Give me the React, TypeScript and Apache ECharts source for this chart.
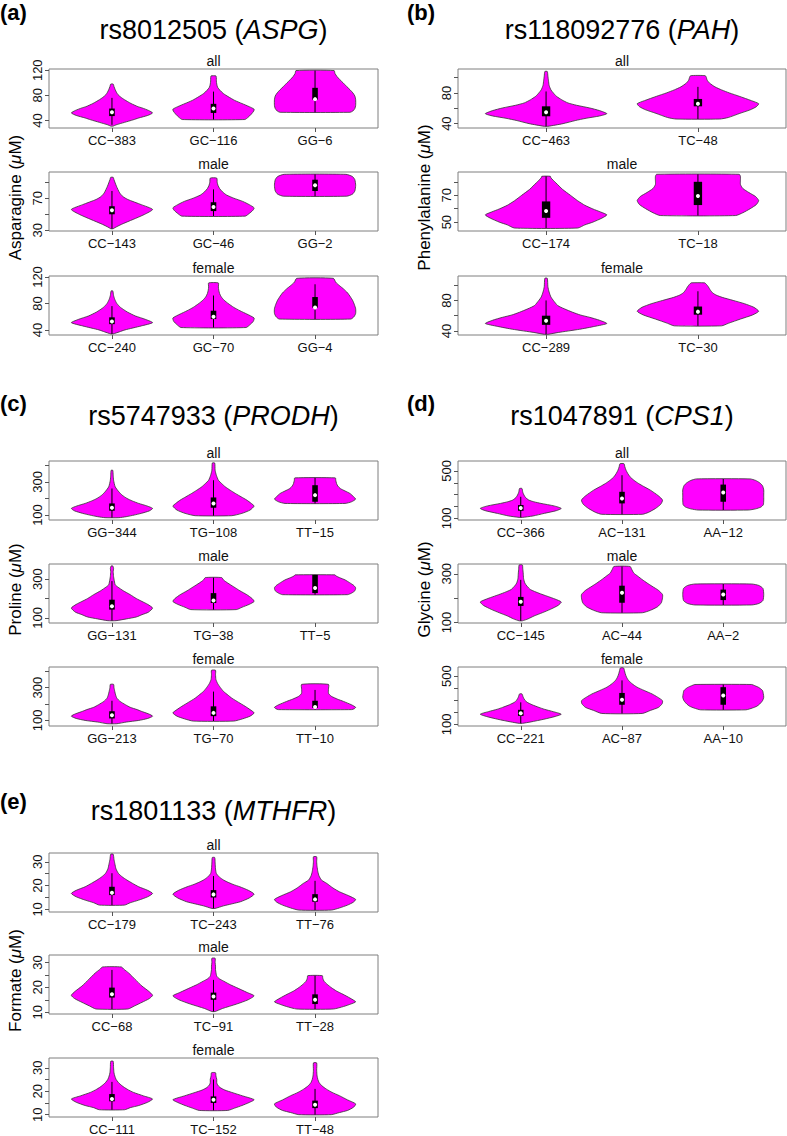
import React, { useEffect, useRef } from "react";
import * as echarts from "echarts";

const FONT = "'Liberation Sans', Arial, Helvetica, sans-serif";

// ---------- (a) rs8012505 (ASPG) ----------
const aAllCats = ["CC−383", "GC−116", "GG−6"];
const aAllProfiles = [
  [[31,0.03],[33,0.1],[37,0.31],[41,0.52],[44,0.66],[48,0.88],[52,1],[56,0.9],[60,0.74],[62,0.64],[67,0.47],[73,0.31],[77,0.22],[81,0.15],[85,0.11],[89,0.08],[94,0.05],[98,0.03]],
  [[41.5,0.77],[45,0.85],[50,0.93],[55,0.99],[58,1],[62,0.88],[67,0.7],[72,0.52],[78,0.36],[83,0.24],[88,0.16],[93,0.1],[98,0.08],[103,0.07],[108,0.07],[111,0.06]],
  [[53,0.86],[55,0.93],[59,0.98],[64,1],[73,1],[79,0.98],[84,0.93],[89,0.86],[94,0.78],[100,0.69],[105,0.61],[110,0.54],[115,0.49],[119.5,0.47]],
];
const aAllBoxes = [[33,47,53,59,76],[41.5,52,59,66.5,86],[53,73,74,92,119.5]];

const aMaleCats = ["CC−143", "GC−46", "GG−2"];
const aMaleProfiles = [
  [[32,0.03],[33.3,0.07],[37.4,0.23],[43.6,0.52],[49.8,0.8],[56,1],[62,0.72],[68.4,0.39],[72,0.27],[76.6,0.19],[85,0.11],[93,0.05],[96,0.03]],
  [[47.7,0.78],[51,0.88],[55,0.97],[58,1],[62,0.88],[66,0.72],[70,0.5],[74,0.32],[78,0.22],[82,0.15],[86,0.11],[90,0.09],[95,0.08]],
  [[72.5,0.78],[75,0.92],[79,0.98],[86,1],[93,0.98],[97,0.92],[99.7,0.76]],
];
const aMaleBoxes = [[32,50,55,60,79],[47.7,54,59,65,81],[72.5,79,86,93,99.7]];

const aFemaleCats = ["CC−240", "GC−70", "GG−4"];
const aFemaleProfiles = [
  [[34,0.03],[37,0.18],[40,0.32],[46,0.72],[51,1],[56,0.82],[61,0.58],[67,0.38],[74,0.21],[80,0.12],[86,0.07],[92,0.04],[99,0.02]],
  [[43.6,0.8],[48,0.9],[53,0.98],[58,1],[64,0.82],[69,0.65],[74,0.5],[80,0.36],[85,0.26],[90,0.19],[95,0.15],[100,0.13],[105,0.12],[111,0.12]],
  [[56.4,0.88],[60,0.96],[65,1],[72,1],[78,0.97],[84,0.93],[90,0.87],[96,0.8],[102,0.7],[107,0.6],[112,0.51],[118,0.45]],
];
const aFemaleBoxes = [[34,48.7,52.6,59,76],[43.6,56.4,60,69,92],[56.4,73.5,74,89.7,109]];

// ---------- (b) rs118092776 (PAH) ----------
const bAllCats = ["CC−463", "TC−48"];
const bAllProfiles = [
  [[36.5,0.03],[40,0.28],[44,0.48],[47,0.66],[50,0.88],[53,1],[57,0.88],[60.4,0.72],[64,0.5],[67,0.36],[71,0.26],[75.7,0.17],[80,0.12],[84,0.08],[90,0.05],[96,0.04],[102,0.03],[108,0.02]],
  [[46,0.36],[48,0.5],[53.4,0.69],[58,0.86],[62,0.96],[66,1],[70,0.88],[75.7,0.68],[80,0.52],[84,0.39],[88,0.28],[93,0.19],[97,0.15],[100,0.14],[102.6,0.12]],
];
const bAllBoxes = [[36.5,49.6,54.8,62.6,82],[46,62.6,66,72.2,88]];

const bMaleCats = ["CC−174", "TC−18"];
const bMaleProfiles = [
  [[45.6,0.52],[48,0.64],[50,0.77],[53,0.92],[55.4,1],[57.5,0.9],[59.8,0.77],[62.5,0.64],[65.9,0.52],[70,0.4],[74.4,0.27],[79.3,0.16],[82.9,0.08],[84.1,0.07]],
  [[54.9,0.62],[57,0.74],[60,0.86],[63,0.96],[66,1],[69,0.95],[72,0.84],[75,0.74],[78,0.7],[81,0.7],[84,0.7],[85.6,0.68]],
];
const bMaleBoxes = [[45.6,53.2,58.3,65.4,84.1],[54.9,62.7,69.5,80,85.6]];

const bFemaleCats = ["CC−289", "TC−30"];
const bFemaleProfiles = [
  [[35.6,0.03],[38,0.2],[42.2,0.55],[46,0.8],[49.8,1],[54,0.88],[57.8,0.72],[61,0.56],[64.4,0.44],[69,0.3],[73.3,0.19],[80,0.12],[84.4,0.08],[91,0.05],[98,0.03],[109,0.02]],
  [[46.7,0.39],[50,0.5],[55.6,0.7],[61,0.9],[65.8,1],[71,0.92],[75.6,0.77],[80,0.58],[84,0.4],[87,0.3],[90,0.24],[94,0.2],[98,0.17],[101,0.14],[103,0.11]],
];
const bFemaleBoxes = [[35.6,48,53.3,60,80],[46.7,61.3,65.3,72,92]];

// ---------- (c) rs5747933 (PRODH) ----------
const cAllCats = ["GG−344", "TG−108", "TT−15"];
const cAllProfiles = [
  [[84,0.17],[90,0.35],[100,0.55],[110,0.72],[125,0.92],[140,1],[155,0.86],[170,0.66],[185,0.5],[200,0.37],[220,0.25],[240,0.17],[270,0.08],[310,0.04],[340,0.03],[370,0.02]],
  [[96,0.45],[110,0.7],[130,0.9],[154,1],[170,0.93],[190,0.82],[210,0.68],[230,0.54],[250,0.41],[270,0.29],[290,0.2],[310,0.12],[340,0.07],[370,0.04],[414,0.03]],
  [[170,0.74],[180,0.9],[196,1],[210,0.95],[230,0.86],[245,0.74],[260,0.62],[275,0.56],[290,0.53],[310,0.51],[324,0.5]],
];
const cAllBoxes = [[84,126,144,170,260],[96,144,170,206,310],[170,180,220,280,324]];

const cMaleCats = ["GG−131", "TG−38", "TT−5"];
const cMaleProfiles = [
  [[86,0.1],[95,0.35],[105,0.6],[117,0.74],[130,0.9],[151,1],[170,0.88],[185,0.74],[200,0.6],[220,0.45],[240,0.28],[260,0.14],[271,0.08],[300,0.05],[313,0.04],[340,0.03],[355,0.04],[368,0.02]],
  [[143,0.56],[155,0.7],[170,0.88],[185,1],[200,0.95],[220,0.82],[240,0.65],[260,0.5],[280,0.35],[295,0.25],[308,0.2]],
  [[220,0.8],[228,0.9],[240,0.98],[255,1],[268,0.95],[282,0.85],[296,0.74],[308,0.6],[316,0.52],[322,0.49]],
];
const cMaleBoxes = [[86,143,160,194,290],[143,177,190,228,308],[220,228,254,322,322]];

const cFemaleCats = ["GG−213", "TG−70", "TT−10"];
const cFemaleProfiles = [
  [[80,0.12],[90,0.35],[100,0.66],[112,0.88],[126,1],[140,0.9],[156,0.72],[166,0.62],[180,0.45],[196,0.33],[216,0.2],[236,0.12],[256,0.09],[276,0.07],[300,0.05],[320,0.04]],
  [[96,0.5],[110,0.72],[126,0.9],[146,1],[166,0.9],[186,0.78],[210,0.62],[236,0.45],[256,0.35],[276,0.25],[300,0.17],[326,0.1],[350,0.06],[380,0.05],[406,0.05]],
  [[166,0.9],[172,0.97],[180,1],[195,0.9],[216,0.7],[230,0.55],[246,0.41],[256,0.36],[266,0.33],[290,0.33],[320,0.33]],
];
const cFemaleBoxes = [[80,112,132,156,220],[96,126,146,186,276],[166,176,182,220,286]];

// ---------- (d) rs1047891 (CPS1) ----------
const dAllCats = ["CC−366", "AC−131", "AA−12"];
const dAllProfiles = [
  [[108,0.04],[120,0.3],[142,0.58],[165,0.88],[184,1],[205,0.82],[226,0.5],[240,0.32],[254,0.2],[275,0.12],[296,0.08],[320,0.05],[352,0.03]],
  [[134,0.5],[150,0.65],[184,0.83],[220,0.96],[254,1],[290,0.9],[338,0.7],[370,0.53],[394,0.41],[420,0.3],[450,0.2],[480,0.14],[506,0.1],[535,0.07],[561,0.05]],
  [[170,0.62],[180,0.8],[195,0.93],[215,0.99],[254,1],[296,1],[340,1],[375,0.97],[400,0.9],[420,0.8],[433,0.66]],
];
const dAllBoxes = [[108,164,187,212,282],[134,226,268,324,464],[170,240,318,385,433]];

const dMaleCats = ["CC−145", "AC−44", "AA−2"];
const dMaleProfiles = [
  [[107,0.04],[115,0.18],[127,0.33],[140,0.53],[154,0.73],[170,0.92],[184,1],[196,0.85],[208,0.65],[220,0.45],[235,0.24],[250,0.15],[262,0.1],[280,0.07],[303,0.06],[320,0.05],[336,0.04]],
  [[140,0.5],[150,0.7],[165,0.88],[181,0.97],[200,1],[215,1],[232,0.9],[249,0.74],[262,0.62],[276,0.5],[290,0.39],[303,0.29],[318,0.24],[330,0.2]],
  [[172,0.7],[178,0.88],[190,0.98],[215,1],[240,0.98],[252,0.88],[258,0.7]],
];
const dMaleBoxes = [[107,168,185,205,275],[140,181,222,251,330],[172,192,215,235,258]];

const dFemaleCats = ["CC−221", "AC−87", "AA−10"];
const dFemaleProfiles = [
  [[108,0.04],[120,0.25],[142,0.57],[165,0.85],[184,1],[205,0.8],[225,0.58],[240,0.45],[262,0.28],[282,0.16],[300,0.1],[325,0.06],[352,0.03]],
  [[190,0.5],[215,0.7],[240,0.9],[270,0.99],[296,1],[325,0.88],[352,0.74],[380,0.55],[408,0.37],[436,0.25],[464,0.16],[492,0.11],[520,0.08],[545,0.06],[567,0.04]],
  [[220,0.56],[235,0.72],[250,0.83],[268,0.9],[296,0.97],[324,1],[352,0.99],[380,0.97],[405,0.88],[420,0.78],[430,0.7]],
];
const dFemaleBoxes = [[108,170,192,220,282],[190,262,304,360,464],[220,262,338,408,430]];

// ---------- (e) rs1801133 (MTHFR) ----------
const eAllCats = ["CC−179", "TC−243", "TT−76"];
const eAllProfiles = [
  [[11.8,0.31],[12.8,0.45],[13.9,0.66],[15.3,0.88],[16.7,1],[18,0.88],[19.5,0.66],[21,0.5],[22.3,0.37],[23.7,0.25],[25.1,0.16],[27,0.1],[29.3,0.07],[31,0.05],[33.2,0.03]],
  [[10.4,0.04],[11.5,0.25],[13.2,0.66],[14.8,0.88],[16.4,1],[18,0.86],[19.5,0.65],[20.5,0.48],[21.6,0.33],[22.3,0.25],[23.5,0.15],[25.1,0.07],[27,0.05],[29.5,0.04],[31.8,0.03]],
  [[9.7,0.4],[10.6,0.6],[11.8,0.8],[13,0.94],[14.2,1],[15.8,0.82],[17.4,0.6],[19,0.44],[20.9,0.29],[22.3,0.16],[24,0.1],[25.8,0.07],[28,0.05],[30,0.04],[32.1,0.04]],
];
const eAllBoxes = [[11.8,16,17,19.5,25.2],[10.4,15,16.3,18.1,24],[9.7,13.2,14.2,16.4,22]];

const eMaleCats = ["CC−68", "TC−91", "TT−28"];
const eMaleProfiles = [
  [[11.3,0.39],[12.5,0.55],[14,0.74],[15.5,0.92],[16.8,1],[18.5,0.9],[20.5,0.74],[23.2,0.57],[25.8,0.41],[27.2,0.3],[28.2,0.23]],
  [[10.3,0.04],[11.5,0.22],[13.3,0.57],[15,0.85],[16.6,1],[18,0.82],[19.9,0.57],[21,0.42],[22.5,0.25],[23.5,0.14],[24.5,0.08],[26,0.06],[27.1,0.05],[28.5,0.05],[30,0.04],[31.7,0.04]],
  [[11.3,0.45],[12.3,0.7],[13.3,0.88],[14.2,1],[15.7,0.86],[17.2,0.69],[18.5,0.53],[19.9,0.4],[21.2,0.3],[22.5,0.22],[23.7,0.19],[24.7,0.18]],
];
const eMaleBoxes = [[11.3,15.9,17.2,19.9,27],[10.3,15,16.3,17.9,23],[11.3,13.3,15,17.2,24.7]];

const eFemaleCats = ["CC−111", "TC−152", "TT−48"];
const eFemaleProfiles = [
  [[12.1,0.31],[13,0.45],[13.9,0.66],[15.3,0.88],[16.7,1],[18,0.78],[19.5,0.53],[20.9,0.37],[22.3,0.25],[23.7,0.16],[25.1,0.1],[26.5,0.07],[27.9,0.05],[30,0.04],[32.8,0.03]],
  [[11.8,0.35],[12.8,0.52],[13.9,0.7],[15.2,0.88],[16.4,1],[18,0.72],[19.5,0.45],[20.5,0.28],[21.6,0.16],[22.7,0.1],[23.7,0.08],[25.1,0.08],[26.5,0.06],[27.9,0.05]],
  [[10,0.4],[10.9,0.6],[11.8,0.8],[13.2,0.95],[14.6,1],[16.3,0.8],[18.1,0.6],[19.5,0.42],[20.9,0.28],[22.3,0.17],[23.7,0.1],[25,0.07],[26.5,0.05],[29,0.04],[32.1,0.04]],
];
const eFemaleBoxes = [[12.1,15.7,16.7,18.8,24],[11.8,15,16.4,17.8,25],[10,12.8,14.2,16,21]];

// ---------- panel descriptions ----------
const panels = [
  { letter: "(a)", snp: "rs8012505", gene: "ASPG", ytitle: "Asparagine", col: 0, band: 0 },
  { letter: "(b)", snp: "rs118092776", gene: "PAH", ytitle: "Phenylalanine", col: 1, band: 0 },
  { letter: "(c)", snp: "rs5747933", gene: "PRODH", ytitle: "Proline", col: 0, band: 1 },
  { letter: "(d)", snp: "rs1047891", gene: "CPS1", ytitle: "Glycine", col: 1, band: 1 },
  { letter: "(e)", snp: "rs1801133", gene: "MTHFR", ytitle: "Formate", col: 0, band: 2 },
];

const subplots = [
  { panel: 0, row: 0, name: "all", cats: aAllCats, profiles: aAllProfiles, boxes: aAllBoxes, yRange: [28, 122], ticks: [40, 80, 120], labels: [40, 80, 120] },
  { panel: 0, row: 1, name: "male", cats: aMaleCats, profiles: aMaleProfiles, boxes: aMaleBoxes, yRange: [29.2, 102.6], ticks: [30, 50, 70, 90], labels: [30, 70] },
  { panel: 0, row: 2, name: "female", cats: aFemaleCats, profiles: aFemaleProfiles, boxes: aFemaleBoxes, yRange: [32.3, 121.5], ticks: [40, 80, 120], labels: [40, 80, 120] },
  { panel: 1, row: 0, name: "all", cats: bAllCats, profiles: bAllProfiles, boxes: bAllBoxes, yRange: [34.3, 111.3], ticks: [40, 60, 80, 100], labels: [40, 80] },
  { panel: 1, row: 1, name: "male", cats: bMaleCats, profiles: bMaleProfiles, boxes: bMaleBoxes, yRange: [43.4, 87.3], ticks: [50, 60, 70, 80], labels: [50, 70] },
  { panel: 1, row: 2, name: "female", cats: bFemaleCats, profiles: bFemaleProfiles, boxes: bFemaleBoxes, yRange: [34.7, 112], ticks: [40, 60, 80, 100], labels: [40, 80] },
  { panel: 2, row: 0, name: "all", cats: cAllCats, profiles: cAllProfiles, boxes: cAllBoxes, yRange: [70, 426], ticks: [100, 200, 300, 400], labels: [100, 300] },
  { panel: 2, row: 1, name: "male", cats: cMaleCats, profiles: cMaleProfiles, boxes: cMaleBoxes, yRange: [74, 378], ticks: [100, 200, 300], labels: [100, 300] },
  { panel: 2, row: 2, name: "female", cats: cFemaleCats, profiles: cFemaleProfiles, boxes: cFemaleBoxes, yRange: [66, 426], ticks: [100, 200, 300, 400], labels: [100, 300] },
  { panel: 3, row: 0, name: "all", cats: dAllCats, profiles: dAllProfiles, boxes: dAllBoxes, yRange: [86, 584], ticks: [100, 200, 300, 400, 500], labels: [100, 500] },
  { panel: 3, row: 1, name: "male", cats: dMaleCats, profiles: dMaleProfiles, boxes: dMaleBoxes, yRange: [98, 340], ticks: [100, 200, 300], labels: [100, 300] },
  { panel: 3, row: 2, name: "female", cats: dFemaleCats, profiles: dFemaleProfiles, boxes: dFemaleBoxes, yRange: [86, 575], ticks: [100, 200, 300, 400, 500], labels: [100, 500] },
  { panel: 4, row: 0, name: "all", cats: eAllCats, profiles: eAllProfiles, boxes: eAllBoxes, yRange: [8.9, 33.7], ticks: [10, 15, 20, 25, 30], labels: [10, 20, 30] },
  { panel: 4, row: 1, name: "male", cats: eMaleCats, profiles: eMaleProfiles, boxes: eMaleBoxes, yRange: [9.3, 33], ticks: [10, 15, 20, 25, 30], labels: [10, 20, 30] },
  { panel: 4, row: 2, name: "female", cats: eFemaleCats, profiles: eFemaleProfiles, boxes: eFemaleBoxes, yRange: [9, 34.2], ticks: [10, 15, 20, 25, 30], labels: [10, 20, 30] },
];

// ---------- layout ----------
const COLS = [
  { left: 49, width: 329, letterX: 0, ytitleX: 15 },
  { left: 458, width: 328, letterX: 407, ytitleX: 424 },
];
const BANDS = [
  { tops: [69, 172, 276], titleY: 30, letterY: 12 },
  { tops: [461, 564, 667], titleY: 416, letterY: 403 },
  { tops: [853, 955, 1058], titleY: 811, letterY: 801 },
];
const GRID_H = 59;
const HALF_W = 0.4;
const BOX_W = 0.055;

function buildOption() {
  const grid: any[] = [];
  const xAxis: any[] = [];
  const yAxis: any[] = [];
  const series: any[] = [];
  const graphic: any[] = [];

  subplots.forEach((sp, gi) => {
    const p = panels[sp.panel];
    const col = COLS[p.col];
    const band = BANDS[p.band];
    const top = band.tops[sp.row];
    const n = sp.cats.length;
    grid.push({
      left: col.left, top, width: col.width, height: GRID_H,
      show: true, borderColor: "#7f7f7f", borderWidth: 1, backgroundColor: "transparent",
    });
    const xs = sp.cats.map((_, i) => i + 1);
    xAxis.push({
      type: "value", gridIndex: gi,
      min: n === 3 ? 0.38 : 0.42, max: n === 3 ? 3.62 : 2.58,
      axisLine: { show: false },
      splitLine: { show: false },
      axisTick: { show: true, customValues: xs, length: 4, lineStyle: { color: "#555" } },
      axisLabel: {
        show: true, customValues: xs, margin: 6, fontSize: 13, color: "#111", fontFamily: FONT,
        formatter: (v: number) => sp.cats[Math.round(v) - 1] ?? "",
      },
    });
    yAxis.push({
      type: "value", gridIndex: gi,
      min: sp.yRange[0], max: sp.yRange[1],
      axisLine: { show: false },
      splitLine: { show: false },
      axisTick: { show: true, customValues: sp.ticks, length: 4, lineStyle: { color: "#555" } },
      axisLabel: {
        show: true, customValues: sp.labels, rotate: 90, margin: 5, fontSize: 13, color: "#111", fontFamily: FONT,
      },
    });
    series.push({
      type: "custom", xAxisIndex: gi, yAxisIndex: gi, clip: false,
      data: xs.map((x) => [x]),
      encode: { x: 0 },
      renderItem: (params: any, api: any) => {
        const i = params.dataIndex;
        const prof = sp.profiles[i];
        const box = sp.boxes[i];
        const cx = i + 1;
        const leftPts = prof.map(([v, w]) => api.coord([cx - w * HALF_W, v]));
        const rightPts = prof.slice().reverse().map(([v, w]) => api.coord([cx + w * HALF_W, v]));
        const pts = leftPts.concat(rightPts);
        const lo = api.coord([cx, box[0]]);
        const hi = api.coord([cx, box[4]]);
        const q1 = api.coord([cx - BOX_W / 2, box[1]]);
        const q3 = api.coord([cx + BOX_W / 2, box[3]]);
        const med = api.coord([cx, box[2]]);
        return {
          type: "group",
          children: [
            { type: "polygon", shape: { points: pts, smooth: 0.2 }, style: { fill: "#ff00ff", stroke: "#333", lineWidth: 0.8 } },
            { type: "line", shape: { x1: lo[0], y1: lo[1], x2: hi[0], y2: hi[1] }, style: { stroke: "#000", lineWidth: 1 } },
            { type: "rect", shape: { x: q1[0], y: q3[1], width: q3[0] - q1[0], height: q1[1] - q3[1] }, style: { fill: "#000" } },
            { type: "circle", shape: { cx: med[0], cy: med[1], r: 2 }, style: { fill: "#fff" } },
          ],
        };
      },
    });
    graphic.push({
      type: "text", x: col.left + col.width / 2, y: top - 8,
      style: { text: sp.name, font: `14px ${FONT}`, fill: "#111", align: "center", verticalAlign: "middle" },
    });
  });

  panels.forEach((p) => {
    const col = COLS[p.col];
    const band = BANDS[p.band];
    graphic.push({
      type: "text", x: col.letterX, y: band.letterY,
      style: { text: p.letter, font: `bold 22px ${FONT}`, fill: "#000", align: "left", verticalAlign: "middle" },
    });
    graphic.push({
      type: "text", x: col.left + col.width / 2, y: band.titleY,
      style: {
        text: `${p.snp} ({i|${p.gene}})`, fontSize: 27, fontFamily: FONT, fill: "#000",
        align: "center", verticalAlign: "middle",
        rich: { i: { fontStyle: "italic", fontSize: 27, fontFamily: FONT, fill: "#000" } },
      },
    });
    const midTop = band.tops[1];
    graphic.push({
      type: "text", x: col.ytitleX, y: midTop + GRID_H / 2 - 4, rotation: Math.PI / 2,
      style: {
        text: `${p.ytitle} ({i|μ}M)`, fontSize: 17, fontFamily: FONT, fill: "#000",
        align: "center", verticalAlign: "middle",
        rich: { i: { fontStyle: "italic", fontSize: 17, fontFamily: FONT, fill: "#000" } },
      },
    });
  });

  return { animation: false, backgroundColor: "#fff", grid, xAxis, yAxis, series, graphic };
}

export default function App() {
  const ref = useRef<HTMLDivElement>(null);
  useEffect(() => {
    if (!ref.current) return;
    const chart = echarts.init(ref.current, undefined, { renderer: "svg" });
    chart.setOption(buildOption() as any);
    return () => chart.dispose();
  }, []);
  return <div ref={ref} style={{ position: "absolute", left: 0, top: 0, width: 787, height: 1136 }} />;
}
